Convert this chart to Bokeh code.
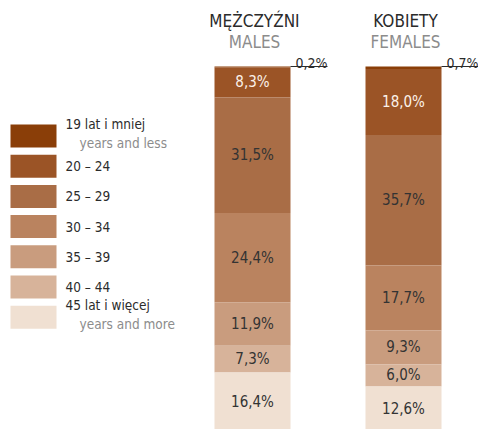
from bokeh.plotting import figure
from bokeh.models import Range1d
from bokeh.core.properties import value
from bokeh.embed import file_html
from bokeh.resources import INLINE

# ---- data ----
categories = ["MĘŻCZYŹNI", "KOBIETY"]
subtitles = ["MALES", "FEMALES"]
age_groups = ["19 lat i mniej", "20 – 24", "25 – 29", "30 – 34", "35 – 39", "40 – 44", "45 lat i więcej"]
age_groups_en = ["years and less", "", "", "", "", "", "years and more"]
males = [0.2, 8.3, 31.5, 24.4, 11.9, 7.3, 16.4]
females = [0.7, 18.0, 35.7, 17.7, 9.3, 6.0, 12.6]
series = [males, females]

colors = ["#8A3E08", "#9B5426", "#A96D46", "#BA835F", "#C99C7E", "#D7B39A", "#F0E0D2"]
label_colors = ["#333333", "#FBF2EA", "#333333", "#333333", "#333333", "#333333", "#333333"]

FONT = value("DejaVu Sans Condensed")
DARK = "#2b2b2b"
GRAY = "#8c8c8c"

# ---- layout helpers (reference pixel geometry) ----
BASE_PX = 432.0
PX_PER_UNIT = 3.66


def py(y_px):
    return (BASE_PX - y_px) / PX_PER_UNIT


bar_centers = [252, 403]
BAR_W = 76

p = figure(width=478, height=429, x_range=Range1d(0, 478), y_range=Range1d(py(429), py(0)),
           output_backend="svg", toolbar_location=None, x_axis_type=None, y_axis_type=None,
           min_border=0)
p.grid.visible = False
p.outline_line_color = None

for ci, vals in enumerate(series):
    xc = bar_centers[ci]
    # stack from the bottom (last group) upward
    bottoms = []
    acc = 0.0
    for v in reversed(vals):
        bottoms.append(acc)
        acc += v
    bottoms = list(reversed(bottoms))
    tops = [b + v for b, v in zip(bottoms, vals)]
    p.vbar(x=[xc] * len(vals), bottom=bottoms, top=tops, width=BAR_W,
           fill_color=colors, line_color=None)
    lx, ly, lt, lc = [], [], [], []
    for i, v in enumerate(vals):
        txt = f"{v:.1f}".replace(".", ",") + "%"
        if i == 0:
            right = xc + BAR_W / 2
            p.segment(x0=[right], y0=[tops[i]], x1=[right + 37], y1=[tops[i]],
                      line_color=DARK, line_width=1)
            p.text(x=[right + 37], y=[tops[i] + 4.0 / PX_PER_UNIT], text=[txt],
                   text_font=FONT, text_font_size="14px", text_color=DARK,
                   text_align="right", text_baseline="alphabetic")
        else:
            lx.append(xc)
            ly.append((bottoms[i] + tops[i]) / 2)
            lt.append(txt)
            lc.append(label_colors[i])
    p.text(x=lx, y=ly, text=lt, text_font=FONT, text_font_size="15px", text_color=lc,
           text_align="center", text_baseline="middle")
    # titles
    p.text(x=[xc + 2], y=[py(20)], text=[categories[ci]], text_font=FONT,
           text_font_size="17px", text_color=DARK, text_align="center", text_baseline="middle")
    p.text(x=[xc + 2], y=[py(41)], text=[subtitles[ci]], text_font=FONT,
           text_font_size="17px", text_color=GRAY, text_align="center", text_baseline="middle")

# ---- manual legend ----
for i, name in enumerate(age_groups):
    top_px = 124 + 30.2 * i
    p.quad(left=[10], right=[56], top=[py(top_px)], bottom=[py(top_px + 23)],
           fill_color=colors[i], line_color=None)
    if age_groups_en[i]:
        p.text(x=[65], y=[py(top_px - 1)], text=[name], text_font=FONT, text_font_size="13.5px",
               text_color=DARK, text_align="left", text_baseline="middle")
        p.text(x=[79], y=[py(top_px + 18)], text=[age_groups_en[i]], text_font=FONT,
               text_font_size="13.5px", text_color=GRAY, text_align="left", text_baseline="middle")
    else:
        p.text(x=[65], y=[py(top_px + 11.5)], text=[name], text_font=FONT, text_font_size="13.5px",
               text_color=DARK, text_align="left", text_baseline="middle")

open("out.html", "w").write(file_html(p, INLINE))
